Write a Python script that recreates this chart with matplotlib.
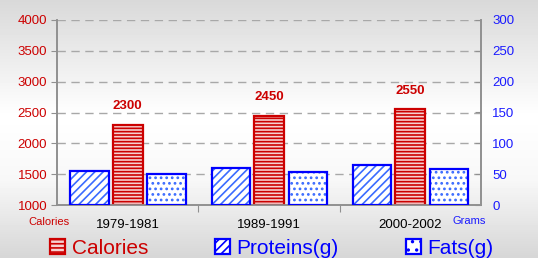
import matplotlib
matplotlib.use("Agg")
import matplotlib.pyplot as plt
from matplotlib.patches import Patch
import numpy as np

plt.rcParams['font.family'] = ['Liberation Sans', 'DejaVu Sans']

# data
periods = ["1979-1981", "1989-1991", "2000-2002"]
calories = [2300, 2450, 2550]
proteins = [55, 60, 65]
fats = [50, 54, 58]

RED = "#cc0000"
BLUE = "#0000ff"
LBLUE = "#3a6bff"

fig = plt.figure(figsize=(5.38, 2.58), dpi=100)

# background gradient
bg = fig.add_axes([0, 0, 1, 1], zorder=-10)
yy = np.linspace(0, 1, 258)
shade = np.interp(yy, [0, 0.45, 0.7, 1], [0.85, 1.0, 0.97, 0.84])
bg.imshow(np.tile(shade[:, None], (1, 10)), cmap="gray", vmin=0, vmax=1,
          aspect="auto", extent=[0, 1, 0, 1])
bg.axis("off")

ax = fig.add_axes([57/538, 53/258, 424/538, 185/258])
ax.patch.set_visible(False)
ax2 = ax.twinx()

x = np.arange(len(periods))


def hatched(axis, xs, vals, width, face, hcol, edge, hatch, base):
    axis.bar(xs, np.array(vals) - base, width, bottom=base, color=face,
             edgecolor=hcol, hatch=hatch, linewidth=0, zorder=3)
    axis.bar(xs, np.array(vals) - base, width, bottom=base, color="none",
             edgecolor=edge, linewidth=1.6, zorder=4)


plt.rcParams['hatch.linewidth'] = 1.2
hatched(ax, x, calories, 0.21, "#f6d0d0", RED, RED, "-----", 1000)
hatched(ax2, x - 0.27, proteins, 0.27, "white", LBLUE, BLUE, "////", 0)
hatched(ax2, x + 0.275, fats, 0.27, "white", LBLUE, BLUE, "...", 0)

for xi, v in zip(x, calories):
    ax.annotate(str(v), (xi, v), xytext=(0, 9), textcoords="offset points",
                ha="center", va="bottom", color=RED, fontsize=9.5,
                fontweight="bold")

ax.set_xlim(-0.5, 2.5)
ax.set_ylim(1000, 4000)
ax.set_yticks(range(1000, 4001, 500))
ax2.set_ylim(0, 300)
ax2.set_yticks(range(0, 301, 50))

ax.yaxis.grid(True, linestyle=(0, (6, 4)), color="#a8a8a8", linewidth=1)
ax.set_axisbelow(True)

ax.set_xticks([0.5, 1.5])
ax.set_xticklabels([])
ax.tick_params(axis="x", length=5, color="#909090", direction="out")
for xi, p in zip(x, periods):
    ax.text(xi, -0.11, p, transform=ax.get_xaxis_transform(), ha="center",
            va="center", fontsize=9.5, color="black")

ax.tick_params(axis="y", labelcolor=RED, labelsize=9.5, color="#909090",
               length=4, pad=3)
ax2.tick_params(axis="y", labelcolor="#1a1aff", labelsize=9.5, color="#909090",
                length=4, direction="in", pad=8)

for a in (ax, ax2):
    a.spines["top"].set_visible(False)
    for s in ("left", "right", "bottom"):
        a.spines[s].set_color("#909090")
        a.spines[s].set_linewidth(1.2)

fig.text(49/538, 1 - 222/258, "Calories", color=RED, fontsize=8,
         ha="center", va="center")
fig.text(469/538, 1 - 221/258, "Grams", color="#1a1aff", fontsize=8,
         ha="center", va="center")

handles = [
    Patch(facecolor="#f6d0d0", edgecolor=RED, hatch="----", linewidth=1.6),
    Patch(facecolor="white", edgecolor=BLUE, hatch="////", linewidth=1.6),
    Patch(facecolor="white", edgecolor=BLUE, hatch="..", linewidth=1.6),
]
fig.legend(handles, ["Calories", "Proteins(g)", "Fats(g)"], ncol=3,
           loc="center", bbox_to_anchor=(0.505, 1 - 248/258), frameon=False,
           fontsize=15, labelcolor=[RED, BLUE, BLUE], handlelength=0.75,
           handleheight=0.75, handletextpad=0.3, columnspacing=3.2,
           borderaxespad=0)

fig.savefig("out.png", dpi=100)
